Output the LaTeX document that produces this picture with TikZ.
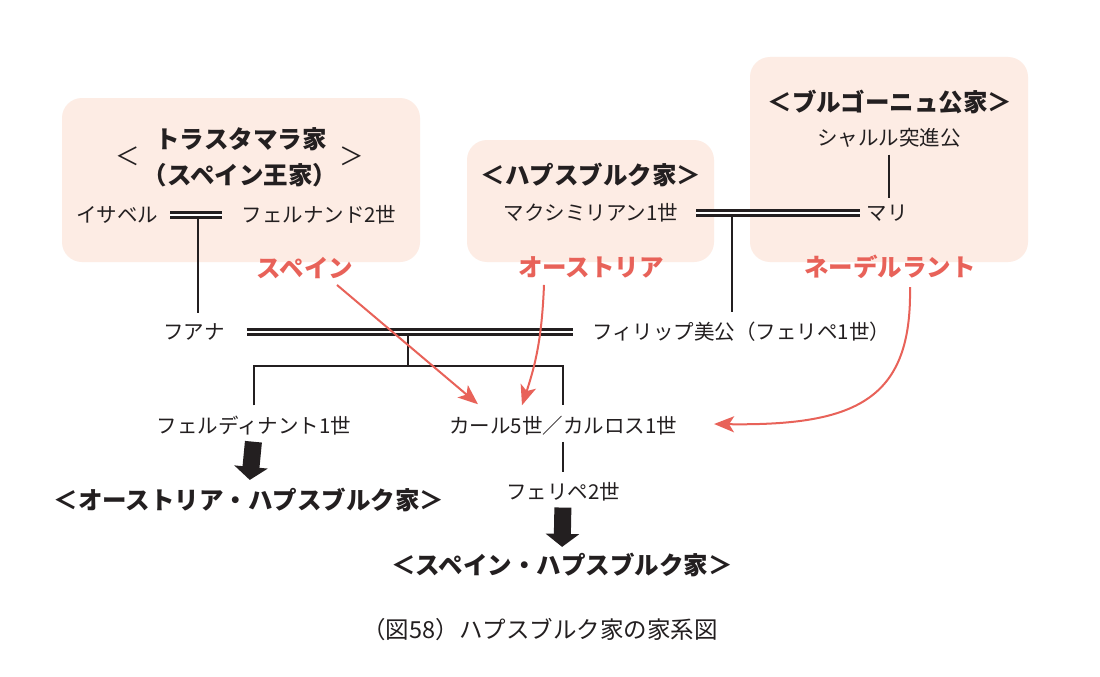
\documentclass[tikz,border=0pt]{standalone}
\usepackage{fontspec}
\setmainfont{Noto Sans CJK JP}
\usetikzlibrary{arrows.meta, positioning, calc}
\definecolor{ink}{RGB}{35,31,32}
\definecolor{peach}{RGB}{253,236,228}
\definecolor{accent}{RGB}{232,98,89}

\begin{document}
\begin{tikzpicture}[x=1pt, y=-1pt,
    house/.style={fill=peach, rounded corners=20pt},
    person/.style={inner sep=0pt, text=ink, font=\fontsize{20.5}{24}\selectfont},
    househead/.style={inner sep=0pt, text=ink, font=\fontsize{24.5}{29}\selectfont\bfseries},
    region/.style={inner sep=0pt, text=accent, font=\fontsize{24.5}{29}\selectfont\bfseries},
    marriage/.style={draw=ink, line width=2.4pt, double=white, double distance=2.4pt},
    descent/.style={draw=ink, line width=2.8pt},
    bigarrow/.style={draw=ink, line width=17pt, -{Triangle[width=33pt, length=13pt]}},
    redarrow/.style={draw=accent, line width=2pt, -{Stealth[length=20pt, width=16pt, inset=5pt]}}
  ]
  \useasboundingbox (0,0) rectangle (1100,677);
  \fill[white] (0,0) rectangle (1100,677);
  % houses
  \fill[house] (62,98) rectangle (420,262);
  \fill[house] (467,140) rectangle (714,262);
  \fill[house] (750,57) rectangle (1028,262);

  \node[househead] (trasta) at (241,139) {トラスタマラ家};
  \node[househead] (trastasub) at (240,175) {（スペイン王家）};
  \node[person, font=\fontsize{24.5}{29}\selectfont] (trastalt) at (128,156) {＜};
  \node[person, font=\fontsize{24.5}{29}\selectfont] (trastagt) at (352,156) {＞};
  \node[person] (isabel) at (117,215) {イサベル};
  \node[person] (fernando) at (319,215) {フェルナンド2世};
  \node[region] (spainlbl) at (305,268) {スペイン};

  \node[househead] (habsburg) at (591,175) {＜ハプスブルク家＞};
  \node[person] (maximilian) at (591,213) {マクシミリアン1世};
  \node[region] (austrialbl) at (591,267) {オーストリア};

  \node[househead] (burgundy) at (890,102) {＜ブルゴーニュ公家＞};
  \node[person] (charles) at (889,138) {シャルル突進公};
  \node[person] (marie) at (887,213) {マリ};
  \node[region] (nethlbl) at (890,267) {ネーデルラント};

  \node[person] (juana) at (194,332) {フアナ};
  \node[person, anchor=west] (philippe) at (592,332) {フィリップ美公（フェリペ1世）};
  \node[person] (ferdinand) at (254,426) {フェルディナント1世};
  \node[person] (carl) at (563,426) {カール5世／カルロス1世};
  \node[person] (philip2) at (563,492) {フェリペ2世};
  \node[househead] (austriahouse) at (249,500) {＜オーストリア・ハプスブルク家＞};
  \node[househead] (spainhouse) at (562,565) {＜スペイン・ハプスブルク家＞};
  \node[person, font=\fontsize{23.5}{28}\selectfont] (caption) at (540,630) {（図58）ハプスブルク家の家系図};

  % marriages
  \draw[marriage, shorten <=12pt, shorten >=19pt] (isabel.east) -- (fernando.west);
  \draw[marriage, shorten <=18pt, shorten >=6pt] (maximilian.east) -- (marie.west);
  \draw[marriage, shorten <=22pt, shorten >=19pt] (juana.east) -- (philippe.west);
  \coordinate (m1) at (198,217);
  \coordinate (m2) at (732,215);
  \coordinate (m3) at (408,334);
  \coordinate (sib) at (408,366);

  % descent
  \draw[descent, shorten >=10pt] (m1) -- (m1 |- juana.north);
  \draw[descent, shorten >=10pt] (m2) -- (m2 |- philippe.north);
  \draw[descent, shorten <=7pt, shorten >=7pt] (charles.south) -- (charles.south |- marie.north);
  \draw[descent] (m3) -- (sib);
  \draw[descent] ([yshift=11pt]ferdinand.north) -- (ferdinand.north |- sib) -- (carl.north |- sib) -- ([yshift=11pt]carl.north);
  \draw[descent, shorten <=6pt, shorten >=10pt] (carl.south) -- (philip2.north);
  \draw[bigarrow, shorten <=6pt, shorten >=8pt] (ferdinand.south) -- (austriahouse.north);
  \draw[bigarrow, shorten <=6pt, shorten >=6pt] (philip2.south) -- (spainhouse.north);

  % territories
  \draw[redarrow] ([xshift=32pt, yshift=-6pt]spainlbl.south) -- ([xshift=-85pt, yshift=12pt]carl.north);
  \draw[redarrow] ([xshift=-47pt, yshift=-7pt]austrialbl.south) to[bend left=8] ([xshift=-41pt, yshift=11pt]carl.north);
  \draw[redarrow] ([xshift=20pt, yshift=-8pt]nethlbl.south) .. controls +(2,112) and +(143,2) .. ([xshift=37pt, yshift=2pt]carl.east);
\end{tikzpicture}
\end{document}
